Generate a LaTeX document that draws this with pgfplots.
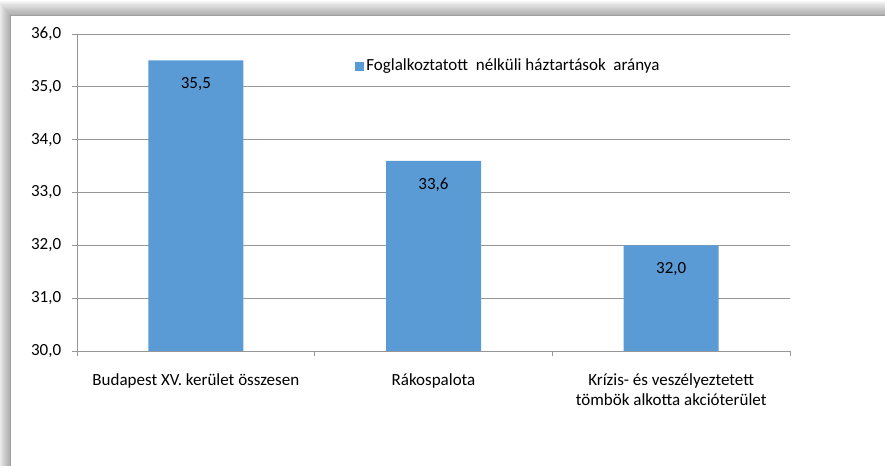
\documentclass[border=0pt]{standalone}
\usepackage{pgfplots}
\pgfplotsset{compat=1.18}
\usepackage{fontspec}
\setmainfont{Carlito}
\definecolor{barblue}{RGB}{91,155,213}
\definecolor{gridgray}{RGB}{150,150,150}
\definecolor{framegray}{RGB}{160,160,160}
\newcommand{\fs}{\fontsize{17bp}{20bp}\selectfont}
\begin{document}
\fs
\begin{tikzpicture}[x=1bp,y=1bp]
\useasboundingbox (0,0) rectangle (885,466);
\clip (0,0) rectangle (885,466);
\fill[white] (0,0) rectangle (885,466);
\foreach \i in {1,...,12} {
  \fill[black,opacity=0.028] (10-\i,-20) rectangle (920,451+1.2*\i);
}
\fill[white,draw=framegray] (10,-20) rectangle (920,451);
\begin{axis}[
  at={(77bp,115bp)}, anchor=south west,
  scale only axis, width=713bp, height=317bp,
  xmin=-0.5, xmax=2.5, ymin=30, ymax=36,
  ytick={30,31,32,33,34,35,36},
  xtick={0,1,2},
  xticklabels={Budapest XV. kerület összesen, Rákospalota, {Krízis- és veszélyeztetett\\tömbök alkotta akcióterület}},
  minor xtick={-0.5,0.5,1.5,2.5},
  axis lines=left,
  axis line style={gridgray, line width=0.8pt, -},
  tick align=outside,
  major tick length=5bp,
  minor tick length=5bp,
  xtick style={draw=none},
  minor x tick style={draw=gridgray, line width=0.8pt},
  ytick style={draw=gridgray, line width=0.8pt},
  ymajorgrids,
  grid style={gridgray, line width=0.8pt},
  /pgf/number format/assume math mode=true,
  /pgf/number format/.cd, fixed, fixed zerofill, precision=1, use comma, /pgfplots/.cd,
  yticklabel style={font=\fs, xshift=-5bp},
  xticklabel style={font=\fs, align=center, yshift=-12bp},
  ybar, bar width=95bp,
  nodes near coords,
  every node near coord/.append style={font=\fs, anchor=center, yshift=-24bp,
    /pgf/number format/fixed, /pgf/number format/fixed zerofill, /pgf/number format/precision=1, /pgf/number format/use comma},
  legend style={at={(0.386,0.899)}, anchor=west, draw=none, fill=none, font=\fs},
  legend image code/.code={\fill[#1,draw=none] (0bp,-4.5bp) rectangle (9bp,4.5bp);},
]
\addplot[fill=barblue, draw=none] coordinates {(0,35.5) (1,33.6) (2,32.0)};
\addlegendentry{Foglalkoztatott\ \ nélküli háztartások\ \ aránya}
\end{axis}
\end{tikzpicture}
\end{document}
